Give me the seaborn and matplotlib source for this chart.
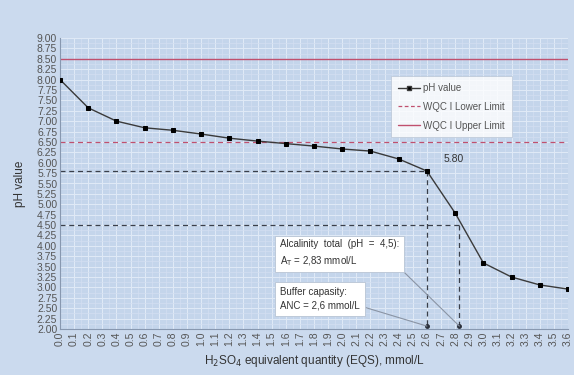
import numpy as np
import pandas as pd
import seaborn as sns
import matplotlib
matplotlib.use("Agg")
import matplotlib.pyplot as plt
from matplotlib.ticker import MultipleLocator, FormatStrFormatter
from matplotlib.lines import Line2D

# ---- data ----
eqs = [0.0, 0.2, 0.4, 0.6, 0.8, 1.0, 1.2, 1.4, 1.6, 1.8, 2.0, 2.2, 2.4, 2.6, 2.8, 3.0, 3.2, 3.4, 3.6]
ph = [8.00, 7.32, 7.00, 6.84, 6.78, 6.69, 6.59, 6.52, 6.46, 6.40, 6.33, 6.28, 6.09, 5.80, 4.79, 3.59, 3.25, 3.06, 2.96]
x_tick_values = [round(0.1 * i, 1) for i in range(37)]
x_tick_labels = [f"{v:.1f}" for v in x_tick_values]
y_tick_values = [2.0 + 0.25 * i for i in range(29)]
lower_limit = 6.5
upper_limit = 8.5
anc_x, anc_ph = 2.6, 5.80
at_x, at_ph = 2.83, 4.5
ph_floor = 2.0

df = pd.DataFrame({"eqs": eqs, "ph": ph})

sns.set_style("white")
plt.rcParams["font.family"] = ["Liberation Sans", "DejaVu Sans"]

fig = plt.figure(figsize=(5.74, 3.75), dpi=100)
fig.patch.set_facecolor("#cbdaee")
ax = fig.add_axes([60 / 574, 1 - 329 / 375, 508 / 574, 291 / 375])
ax.set_facecolor("#c4d5eb")

# grids
ax.set_xticks(x_tick_values)
ax.set_xticklabels(x_tick_labels, rotation=90)
ax.set_yticks(y_tick_values)
ax.yaxis.set_major_formatter(FormatStrFormatter("%.2f"))
ax.xaxis.set_minor_locator(MultipleLocator(0.05))
ax.yaxis.set_minor_locator(MultipleLocator(0.125))
ax.grid(True, which="major", color="#e0eaf7", linewidth=0.7)
ax.grid(True, which="minor", color="#d3dff1", linewidth=0.5)
ax.set_axisbelow(True)

# limits
ax.axhline(upper_limit, color="#c0506e", lw=1.0)
ax.axhline(lower_limit, color="#c0506e", lw=0.9, ls=(0, (4, 3)))

# reference dashed lines
dash_kw = dict(color="#3a3f4a", lw=0.9, ls=(0, (4, 3)))
ax.plot([0, anc_x], [anc_ph, anc_ph], **dash_kw)
ax.plot([anc_x, anc_x], [anc_ph, ph_floor + 0.07], **dash_kw)
ax.plot([0, at_x], [at_ph, at_ph], **dash_kw)
ax.plot([at_x, at_x], [at_ph, ph_floor + 0.07], **dash_kw)
ax.plot([anc_x, at_x], [ph_floor + 0.07, ph_floor + 0.07], ls="none", marker="o",
        ms=2.5, color="#2a2f3a")

# main series
sns.lineplot(data=df, x="eqs", y="ph", ax=ax, color="#3a3a3a", lw=1.0,
             marker="s", markersize=3.2, markerfacecolor="black",
             markeredgecolor="black", zorder=5)

ax.text(2.72, 6.1, "5.80", fontsize=7.5, color="#333333", va="center")

# annotations
box_kw = dict(boxstyle="square,pad=0.5", fc="white", ec="#b8c4d4", lw=0.6)
ax.annotate("Alcalinity  total  (pH  =  4,5):\nA$_{\\mathrm{T}}$ = 2,83 mmol/L",
            xy=(at_x, ph_floor + 0.07), xytext=(1.56, 3.82), fontsize=7, color="#333333",
            va="center", ha="left", bbox=box_kw, linespacing=1.5,
            arrowprops=dict(arrowstyle="-", color="#8a94a4", lw=0.8, relpos=(1.0, 0.0),
                            shrinkA=0, shrinkB=0))
ax.annotate("Buffer capasity:\nANC = 2,6 mmol/L",
            xy=(anc_x, ph_floor + 0.07), xytext=(1.56, 2.73), fontsize=7, color="#333333",
            va="center", ha="left", bbox=box_kw, linespacing=1.5,
            arrowprops=dict(arrowstyle="-", color="#8a94a4", lw=0.8, relpos=(1.0, 0.2),
                            shrinkA=0, shrinkB=0))

ax.set_xlim(0, 3.6)
ax.set_ylim(2.0, 9.0)

for s in ["top", "right"]:
    ax.spines[s].set_visible(False)
for s in ["left", "bottom"]:
    ax.spines[s].set_color("#8898b0")
    ax.spines[s].set_linewidth(0.8)

ax.tick_params(axis="both", which="both", length=0, labelsize=7.5, labelcolor="#555555", pad=2)

ax.set_ylabel("pH value", fontsize=8.5, color="#333333", labelpad=8)
ax.set_xlabel("H$_2$SO$_4$ equivalent quantity (EQS), mmol/L", fontsize=8.5, color="#333333", labelpad=5)

handles = [
    Line2D([], [], color="#3a3a3a", lw=1.0, marker="s", ms=2.5, markerfacecolor="black"),
    Line2D([], [], color="#c0506e", lw=0.9, ls=(0, (3, 2))),
    Line2D([], [], color="#c0506e", lw=1.0),
]
leg = ax.legend(handles, ["pH value", "WQC I Lower Limit", "WQC I Upper Limit"],
                loc="upper right", bbox_to_anchor=(0.899, 0.885), fontsize=7,
                frameon=True, fancybox=False, handlelength=2.2, labelspacing=0.9,
                borderpad=0.7, handletextpad=0.4)
leg.get_frame().set_facecolor("white")
leg.get_frame().set_edgecolor("#b8c4d4")
leg.get_frame().set_linewidth(0.6)
for t in leg.get_texts():
    t.set_color("#555555")

fig.savefig("out.png", dpi=100, facecolor=fig.get_facecolor())
